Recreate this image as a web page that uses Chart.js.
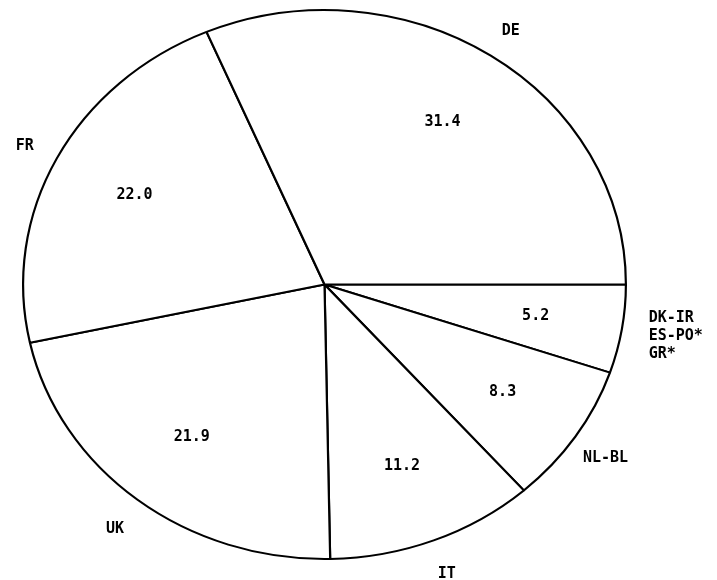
<!DOCTYPE html>
<html>
<head>
<meta charset="utf-8">
<script src="https://cdn.jsdelivr.net/npm/chart.js@4/dist/chart.umd.min.js"></script>
<style>
  html, body { margin: 0; padding: 0; background: #fff; }
  canvas { display: block; }
</style>
</head>
<body>
<canvas id="c" width="717" height="580"></canvas>
<script>
// Data (ordered clockwise from 3 o'clock, i.e. reversed from the counter-clockwise reading)
const categories = [["DK-IR", "ES-PO*", "GR*"], "NL-BL", "IT", "UK", "FR", "DE"];
const shares = [5.2, 8.3, 11.2, 21.9, 22.0, 31.4];
const valueLabels = ["5.2", "8.3", "11.2", "21.9", "22.0", "31.4"];

const STRETCH_X = 1.098;   // ellipse: horizontal / vertical radius
const FONT = 'bold 15px "DejaVu Sans Mono", "Liberation Mono", monospace';

const ellipsePlugin = {
  id: 'ellipse',
  beforeDatasetsDraw(chart) {
    const arc = chart.getDatasetMeta(0).data[0];
    const ctx = chart.ctx;
    ctx.save();
    ctx.translate(arc.x, arc.y);
    ctx.scale(STRETCH_X, 1);
    ctx.translate(-arc.x, -arc.y);
  },
  afterDatasetsDraw(chart) {
    const ctx = chart.ctx;
    ctx.restore();
    const meta = chart.getDatasetMeta(0);
    ctx.save();
    ctx.font = FONT;
    ctx.fillStyle = '#000';
    ctx.textBaseline = 'middle';
    meta.data.forEach((arc, i) => {
      const mid = (arc.startAngle + arc.endAngle) / 2;
      const R = arc.outerRadius;
      const c = Math.cos(mid), s = Math.sin(mid);
      // value label inside
      const ri = 0.71 * R;
      ctx.textAlign = 'center';
      ctx.fillText(valueLabels[i], arc.x + STRETCH_X * ri * c, arc.y + ri * s);
      // category label outside
      const lab = categories[i];
      const lines = Array.isArray(lab) ? lab : [lab];
      let ro = 1.12 * R;
      if (Math.abs(c) > 0.95) {
        ro = 1.09 * R;
        ctx.textAlign = c > 0 ? 'left' : 'right';
      } else {
        ctx.textAlign = 'center';
      }
      const x = arc.x + STRETCH_X * ro * c;
      const y = arc.y + ro * s;
      const lh = 18;
      lines.forEach((t, k) => {
        ctx.fillText(t, x, y + (k - (lines.length - 1) / 2) * lh + 3);
      });
    });
    ctx.restore();
  }
};

new Chart(document.getElementById('c'), {
  type: 'pie',
  data: {
    labels: categories.map(l => Array.isArray(l) ? l.join(' ') : l),
    datasets: [{
      data: shares,
      backgroundColor: '#ffffff',
      borderColor: '#000000',
      borderWidth: 2,
      borderAlign: 'center'
    }]
  },
  options: {
    responsive: false,
    animation: false,
    rotation: 90,
    layout: { padding: { top: 9, bottom: 20, left: 49, right: 117 } },
    plugins: { legend: { display: false }, tooltip: { enabled: false } }
  },
  plugins: [ellipsePlugin]
});
</script>
</body>
</html>
